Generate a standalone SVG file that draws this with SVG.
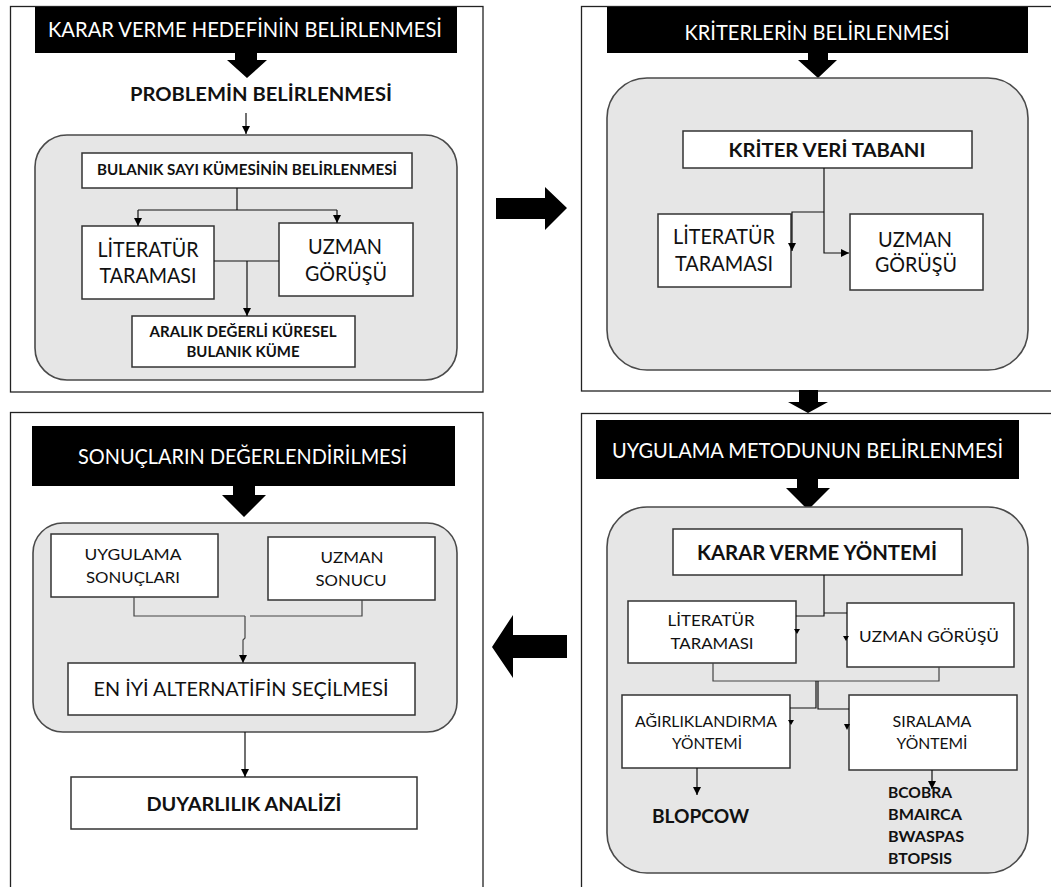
<svg xmlns="http://www.w3.org/2000/svg" width="1051" height="887" viewBox="0 0 1051 887">
  <defs>
    <marker id="ah" viewBox="0 0 10 10" refX="10" refY="5" markerWidth="8" markerHeight="8" markerUnits="userSpaceOnUse" orient="auto">
      <path d="M0,0 L10,5 L0,10 Z" fill="#000"/>
    </marker>
    <style>
      .panel { fill: #fff; stroke: #222; stroke-width: 1.3; }
      .bar { fill: #000; }
      .block { fill: #000; }
      .group { fill: #e6e6e6; stroke: #4a4a4a; stroke-width: 1.6; }
      .box { fill: #fff; stroke: #333; stroke-width: 1.5; }
      .ttl { font-family: Lato, "Liberation Sans", sans-serif; font-size: 21px; fill: #fff; text-anchor: middle; }
      .t { font-family: Lato, "Liberation Sans", sans-serif; fill: #111; text-anchor: middle; }
      .tl { font-family: Lato, "Liberation Sans", sans-serif; fill: #111; }
      .b { font-weight: bold; }
      .ln { fill: none; stroke: #111; stroke-width: 1.2; }
      .lg { fill: none; stroke: #444; stroke-width: 1.2; }
      .arr { marker-end: url(#ah); }
    </style>
  </defs>

  <!-- stage frames -->
  <g id="frames">
    <rect class="panel" x="10.5" y="6.5" width="472.5" height="385.5"/>
    <rect class="panel" x="581.5" y="6.5" width="480" height="384.5"/>
    <rect class="panel" x="10.5" y="412.5" width="472.5" height="490"/>
    <rect class="panel" x="581.5" y="413.5" width="480" height="490"/>
  </g>

  <!-- arrows linking the stages -->
  <g id="stage-arrows">
    <path class="block" d="M496,198 H545 V187 L567,208 L545,230 V219 H496 Z"/>
    <path class="block" d="M799,390 H818 V402 H828 L808,413 L788,402 H799 Z"/>
    <path class="block" d="M567,635 H513 V615 L492,647 L513,678 V658 H567 Z"/>
  </g>

  <!-- stage 1 -->
  <g id="stage1">
    <rect class="bar" x="35" y="7" width="422" height="46"/>
    <text class="ttl" x="245" y="37" textLength="394" lengthAdjust="spacingAndGlyphs">KARAR VERME HEDEFİNİN BELİRLENMESİ</text>
    <path class="block" d="M235,53 H257 V60 H267 L247,78 L227,60 H235 Z"/>
    <text class="t b" x="261" y="101" font-size="19" textLength="262" lengthAdjust="spacingAndGlyphs">PROBLEMİN BELİRLENMESİ</text>
    <rect class="group" x="35" y="135" width="422" height="245" rx="32" ry="32"/>
  </g>
  <g id="s1-bulanik">
    <rect class="box" x="82" y="153" width="330" height="35"/>
    <text class="t b" x="247" y="175" font-size="15" textLength="300" lengthAdjust="spacingAndGlyphs">BULANIK SAYI KÜMESİNİN BELİRLENMESİ</text>
  </g>
  <g id="s1-literatur">
    <rect class="box" x="82" y="226" width="132" height="73"/>
    <text class="t" x="148" y="257" font-size="21" textLength="101" lengthAdjust="spacingAndGlyphs">LİTERATÜR</text>
    <text class="t" x="148" y="283" font-size="21" textLength="97" lengthAdjust="spacingAndGlyphs">TARAMASI</text>
  </g>
  <g id="s1-uzman">
    <rect class="box" x="279" y="223" width="134" height="73"/>
    <text class="t" x="345" y="254" font-size="21" textLength="74" lengthAdjust="spacingAndGlyphs">UZMAN</text>
    <text class="t" x="346" y="281" font-size="21" textLength="82" lengthAdjust="spacingAndGlyphs">GÖRÜŞÜ</text>
  </g>
  <g id="s1-aralik">
    <rect class="box" x="132" y="316" width="223" height="51"/>
    <text class="t b" x="243" y="337" font-size="15" textLength="187" lengthAdjust="spacingAndGlyphs">ARALIK DEĞERLİ KÜRESEL</text>
    <text class="t b" x="243" y="357" font-size="15" textLength="113" lengthAdjust="spacingAndGlyphs">BULANIK KÜME</text>
  </g>

  <!-- stage 2 -->
  <g id="stage2">
    <rect class="bar" x="607" y="7" width="421" height="46"/>
    <text class="ttl" x="817" y="40" textLength="265" lengthAdjust="spacingAndGlyphs">KRİTERLERİN BELİRLENMESİ</text>
    <path class="block" d="M808,53 H828 V60 H837 L818,78 L798,60 H808 Z"/>
    <rect class="group" x="607" y="78" width="421" height="292" rx="40" ry="40"/>
  </g>
  <g id="s2-veritabani">
    <rect class="box" x="683" y="131" width="289" height="37"/>
    <text class="t b" x="827" y="157" font-size="19.5" textLength="197" lengthAdjust="spacingAndGlyphs">KRİTER VERİ TABANI</text>
  </g>
  <g id="s2-literatur">
    <rect class="box" x="658" y="214" width="133" height="73"/>
    <text class="t" x="724" y="244" font-size="21" textLength="102" lengthAdjust="spacingAndGlyphs">LİTERATÜR</text>
    <text class="t" x="724" y="271" font-size="21" textLength="98" lengthAdjust="spacingAndGlyphs">TARAMASI</text>
  </g>
  <g id="s2-uzman">
    <rect class="box" x="850" y="214" width="133" height="76"/>
    <text class="t" x="915" y="247" font-size="21" textLength="74" lengthAdjust="spacingAndGlyphs">UZMAN</text>
    <text class="t" x="916" y="272" font-size="21" textLength="82" lengthAdjust="spacingAndGlyphs">GÖRÜŞÜ</text>
  </g>

  <!-- stage 3 -->
  <g id="stage3">
    <rect class="bar" x="32" y="426" width="423" height="60"/>
    <text class="ttl" x="242.5" y="464" textLength="329" lengthAdjust="spacingAndGlyphs">SONUÇLARIN DEĞERLENDİRİLMESİ</text>
    <path class="block" d="M233,486 H255 V495 H266 L244,517 L222,495 H233 Z"/>
    <rect class="group" x="33" y="523" width="424" height="209" rx="30" ry="30"/>
  </g>
  <g id="s3-uygulama">
    <rect class="box" x="51" y="534" width="167" height="63"/>
    <text class="t" x="133" y="560" font-size="16" textLength="97" lengthAdjust="spacingAndGlyphs">UYGULAMA</text>
    <text class="t" x="133" y="583" font-size="16" textLength="94" lengthAdjust="spacingAndGlyphs">SONUÇLARI</text>
  </g>
  <g id="s3-uzman">
    <rect class="box" x="268" y="537" width="167" height="63"/>
    <text class="t" x="352" y="563" font-size="16" textLength="63" lengthAdjust="spacingAndGlyphs">UZMAN</text>
    <text class="t" x="351" y="586" font-size="16" textLength="71" lengthAdjust="spacingAndGlyphs">SONUCU</text>
  </g>
  <g id="s3-eniyi">
    <rect class="box" x="68" y="663" width="347" height="52"/>
    <text class="t" x="241" y="696" font-size="20" textLength="295" lengthAdjust="spacingAndGlyphs">EN İYİ ALTERNATİFİN SEÇİLMESİ</text>
  </g>
  <g id="s3-duyarlilik">
    <rect class="box" x="71" y="777" width="346" height="52"/>
    <text class="t b" x="244" y="811" font-size="19.5" textLength="195" lengthAdjust="spacingAndGlyphs">DUYARLILIK ANALİZİ</text>
  </g>

  <!-- stage 4 -->
  <g id="stage4">
    <rect class="bar" x="596" y="420" width="423" height="59"/>
    <text class="ttl" x="807.5" y="458" textLength="391" lengthAdjust="spacingAndGlyphs">UYGULAMA METODUNUN BELİRLENMESİ</text>
    <path class="block" d="M797,479 H818 V488 H830 L808,510 L786,488 H797 Z"/>
    <rect class="group" x="607" y="507" width="421" height="366" rx="40" ry="40"/>
  </g>
  <g id="s4-yontem">
    <rect class="box" x="673" y="529" width="289" height="46"/>
    <text class="t b" x="817" y="560" font-size="21" textLength="240" lengthAdjust="spacingAndGlyphs">KARAR VERME YÖNTEMİ</text>
  </g>
  <g id="s4-literatur">
    <rect class="box" x="628" y="601" width="168" height="62"/>
    <text class="t" x="711" y="626" font-size="16" textLength="87" lengthAdjust="spacingAndGlyphs">LİTERATÜR</text>
    <text class="t" x="712" y="649" font-size="16" textLength="83" lengthAdjust="spacingAndGlyphs">TARAMASI</text>
  </g>
  <g id="s4-uzman">
    <rect class="box" x="847" y="603" width="167" height="64"/>
    <text class="t" x="929" y="642" font-size="16" textLength="140" lengthAdjust="spacingAndGlyphs">UZMAN GÖRÜŞÜ</text>
  </g>
  <g id="s4-agirlik">
    <rect class="box" x="622" y="695" width="168" height="73"/>
    <text class="t" x="706" y="727" font-size="16" textLength="142" lengthAdjust="spacingAndGlyphs">AĞIRLIKLANDIRMA</text>
    <text class="t" x="707" y="749" font-size="16" textLength="70" lengthAdjust="spacingAndGlyphs">YÖNTEMİ</text>
  </g>
  <g id="s4-siralama">
    <rect class="box" x="849" y="695" width="168" height="75"/>
    <text class="t" x="932" y="727" font-size="16" textLength="79" lengthAdjust="spacingAndGlyphs">SIRALAMA</text>
    <text class="t" x="932" y="749" font-size="16" textLength="71" lengthAdjust="spacingAndGlyphs">YÖNTEMİ</text>
  </g>
  <g id="s4-blopcow">
    <text class="tl b" x="652" y="823" font-size="19" textLength="97" lengthAdjust="spacingAndGlyphs">BLOPCOW</text>
  </g>
  <g id="s4-siralama-yontemleri">
    <text class="tl b" x="888" y="798" font-size="15" textLength="64" lengthAdjust="spacingAndGlyphs">BCOBRA</text>
    <text class="tl b" x="888" y="820" font-size="15" textLength="74" lengthAdjust="spacingAndGlyphs">BMAIRCA</text>
    <text class="tl b" x="888" y="842" font-size="15" textLength="76" lengthAdjust="spacingAndGlyphs">BWASPAS</text>
    <text class="tl b" x="888" y="864" font-size="15" textLength="64" lengthAdjust="spacingAndGlyphs">BTOPSIS</text>
  </g>

  <!-- connectors -->
  <g id="connectors">
    <!-- stage 1 -->
    <path class="ln arr" d="M246,113 V134"/>
    <path class="ln" d="M237,188 V210 M138,210 H337"/>
    <path class="ln arr" d="M138,210 V226"/>
    <path class="ln arr" d="M337,210 V223"/>
    <path class="ln" d="M214,261 H279"/>
    <path class="ln arr" d="M247,261 V316"/>
    <!-- stage 2 -->
    <path class="ln arr" d="M824,168 V253 H849"/>
    <path class="ln arr" d="M824,212 H792 V251"/>
    <!-- stage 3 -->
    <path class="lg" d="M134,597 V616 H245 M362,600 V616 H250"/>
    <path class="lg arr" d="M245,616 V638 L243,640 V663"/>
    <path class="ln arr" d="M245,732 V777"/>
    <!-- stage 4 -->
    <path class="ln" d="M824,575 V616 H796 M824,613 H847"/>
    <path class="block" d="M794,629 H800 L797,634 Z"/>
    <path class="block" d="M843,636 H849 L846,641 Z"/>
    <path class="lg" d="M713,663 V681 H939 V667"/>
    <path class="ln" d="M816,681 V708 H790 M818,681 V709 H849"/>
    <path class="block" d="M788,720 H794 L791,725 Z"/>
    <path class="block" d="M844,724 H850 L847,730 Z"/>
    <path class="ln arr" d="M697,768 V795"/>
    <path class="ln arr" d="M932,770 V789"/>
  </g>
</svg>
